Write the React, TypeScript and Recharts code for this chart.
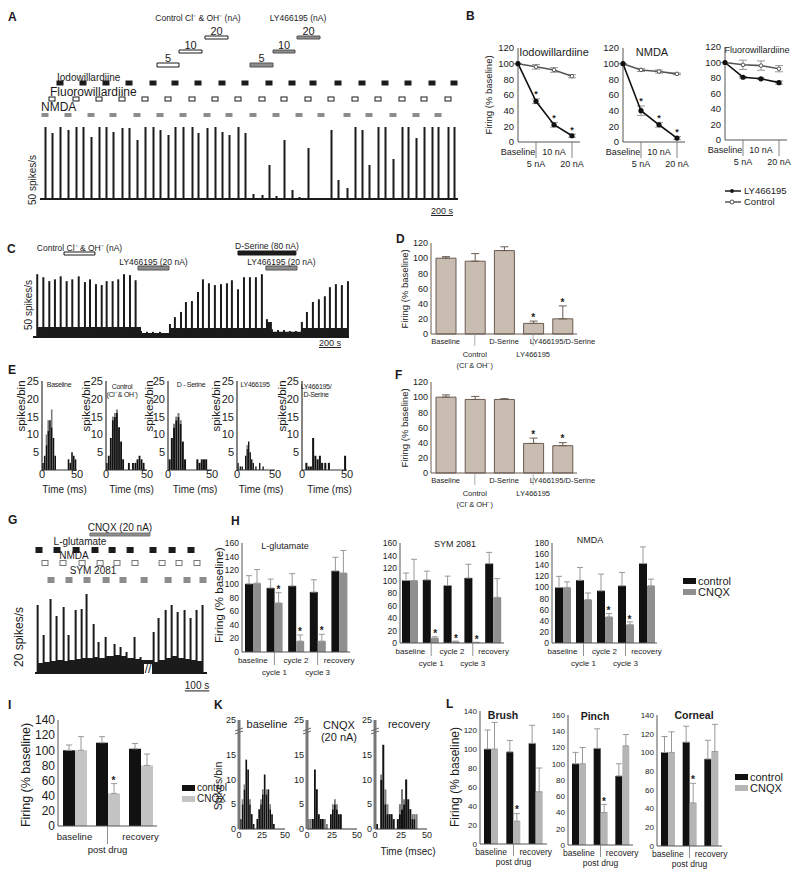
import React from 'react';
import {
  ComposedChart, Line, Bar, XAxis, YAxis, ErrorBar, Area, Scatter,
  ReferenceArea, ReferenceLine,
} from 'recharts';

const FONT = '"Liberation Sans", Arial, Helvetica, sans-serif';
const INK = '#1b1b1b';

/* ---------------- Panel A data ---------------- */
const A_X_MAX = 2926; // s
const A_Y_MAX = 216; // spikes/s
const A_NMDA_T = [35, 196, 357, 511, 679, 840, 1001, 1169, 1323, 1491, 1652, 1813, 1967, 2149, 2303, 2471, 2632, 2786];
const A_NMDA_H = [216, 207, 186, 201, 177, 207, 216, 213, 192, 15, 9, 6, 0, 33, 102, 120, 183, 216];
const A_FLUORO_T = [84, 252, 413, 574, 735, 896, 1064, 1225, 1386, 1554, 1708, 1876, 2037, 2205, 2366, 2534, 2688, 2856];
const A_FLUORO_H = [198, 216, 216, 213, 216, 192, 216, 216, 216, 12, 177, 153, 207, 216, 216, 216, 216, 216];
const A_IODO_T = [140, 301, 462, 623, 791, 945, 1106, 1274, 1435, 1603, 1764, 1911, 2086, 2254, 2415, 2576, 2744, 2898];
const A_IODO_H = [216, 216, 216, 213, 216, 216, 198, 201, 198, 102, 27, 3, 57, 207, 216, 216, 216, 216];
const A_DOSES = ['5', '10', '20'];
const A_CTRL_ON = [819, 973, 1155];
const A_CTRL_OFF = [973, 1134, 1316];
const A_LY_ON = [1470, 1631, 1799];
const A_LY_OFF = [1631, 1785, 1960];

/* ---------------- Panel B data ---------------- */
const B_DOSES = ['Baseline', '5 nA', '10 nA', '20 nA'];
const B_IODO_LY = [100, 52, 22, 8];
const B_IODO_LY_ERR = [0, 3, 3, 2];
const B_IODO_CTRL = [100, 96, 92, 84];
const B_IODO_CTRL_ERR = [0, 3, 3, 2];
const B_IODO_SIG = [false, true, true, true];
const B_NMDA_LY = [100, 40, 22, 5];
const B_NMDA_LY_ERR = [0, 6, 3, 2];
const B_NMDA_CTRL = [100, 92, 90, 87];
const B_NMDA_CTRL_ERR = [0, 2, 2, 1];
const B_NMDA_SIG = [false, true, true, true];
const B_FLUORO_LY = [100, 81, 79, 74];
const B_FLUORO_LY_ERR = [0, 1, 1, 2];
const B_FLUORO_CTRL = [100, 97, 96, 92];
const B_FLUORO_CTRL_ERR = [0, 6, 6, 4];
const B_FLUORO_SIG = [false, false, false, false];

/* ---------------- Panel C data ---------------- */
const C_X_MAX = 2750;
const C_Y_MAX = 212;
const C_T = [37, 90, 142, 191, 241, 293, 342, 398, 452, 496, 548, 598, 641, 693, 742, 792, 844, 893, 940, 992,
  1044, 1105, 1157, 1192, 1235, 1288, 1331, 1383, 1436, 1479, 1531, 1583, 1636, 1688, 1731, 1784, 1836, 1888, 1940, 1992,
  2036, 2079, 2132, 2184, 2236, 2288, 2340, 2384, 2436, 2488, 2540, 2584, 2636, 2688, 2741];
const C_H = [208, 198, 185, 191, 201, 185, 191, 201, 182, 191, 175, 172, 185, 185, 191, 208, 205, 188, 20, 17,
  17, 17, 13, 43, 66, 83, 116, 119, 149, 191, 178, 172, 175, 178, 188, 158, 198, 198, 198, 208,
  59, 26, 23, 23, 20, 20, 50, 83, 116, 125, 135, 165, 175, 172, 185];
const C_TONIC = [33, 33, 33, 33, 33, 33, 33, 33, 33, 33, 33, 33, 33, 33, 33, 33, 33, 33, 13, 13,
  13, 13, 13, 30, 30, 30, 30, 30, 30, 30, 30, 30, 30, 30, 30, 30, 30, 30, 30, 30,
  50, 17, 17, 17, 17, 17, 30, 30, 30, 30, 30, 30, 30, 30, 30];
const C_CTRL = [270, 539];
const C_LY1 = [914, 1183];
const C_DSER = [1784, 2288];
const C_LY2 = [2027, 2297];

/* ---------------- Panels D / F data ---------------- */
const DF_LABELS = ['Baseline', 'Control\n(Cl⁻& OH⁻)', 'D-Serine', 'LY466195', 'LY466195/D-Serine'];
const D_VALUES = [100, 96, 110, 14, 20];
const D_ERR = [2, 10, 5, 3, 17];
const D_SIG = [false, false, false, true, true];
const F_VALUES = [100, 97, 97, 39, 36];
const F_ERR = [3, 4, 1, 7, 4];
const F_SIG = [false, false, false, true, true];

/* ---------------- Panel E data (ms, spikes/bin) ---------------- */
const E1_T = [1.5, 4, 6.5, 9, 11.5, 14, 16.5, 19, 38, 40.5, 43, 45.5, 48];
const E1_B = [2, 4, 7, 11, 14, 12, 9, 4, 3, 2, 5, 4, 3];
const E1_G = [2, 4, 10, 14, 14, 17, 8, 4, 3, 2, 5, 4, 3];
const E2_T = [1, 3.5, 6, 8.5, 11, 13.5, 16, 18.5, 21, 28, 33, 36, 38.5, 41, 43.5, 46];
const E2_B = [2, 4, 9, 14, 15, 16, 12, 8, 3, 2, 2, 2, 3, 4, 3, 2];
const E2_G = [2, 4, 9, 15, 16, 17, 11, 8, 3, 2, 2, 2, 3, 4, 3, 2];
const E3_T = [2, 4.5, 7, 9.5, 12, 14.5, 17, 19.5, 33.5, 36, 38.5, 41, 43.5];
const E3_B = [3, 9, 12, 14, 15, 13, 8, 3, 3, 2, 3, 3, 3];
const E3_G = [3, 9, 13, 15, 16, 14, 8, 3, 3, 2, 3, 3, 3];
const E4_T = [1.5, 4.5, 7, 11.5, 13.5, 15.5, 17.5, 19.5, 21.5, 25, 30, 34.5];
const E4_B = [2, 1, 1, 4, 6, 8, 5, 3, 2, 1, 2, 1];
const E4_G = [2, 1, 1, 4, 7, 8, 5, 3, 2, 1, 2, 1];
const E5_T = [5, 7.5, 10, 12.5, 15, 17.5, 20, 22.5, 26, 30, 48];
const E5_B = [2, 1, 1, 9, 4, 3, 4, 2, 2, 2, 4];
const E5_G = [2, 1, 1, 9, 4, 3, 4, 2, 2, 2, 4];

/* ---------------- Panel G data ---------------- */
const G_X_MAX = 946;
const G_Y_MAX = 160;
const G_T = [17, 50, 88, 121, 160, 187, 226, 259, 286, 325, 352, 391, 440, 473, 506, 550, 583, 655, 682, 721, 754, 787, 825, 858, 891, 924];
const G_H = [136, 76, 148, 114, 132, 76, 126, 128, 158, 98, 62, 72, 58, 52, 42, 72, 32, 82, 110, 126, 136, 122, 126, 110, 126, 136];
const G_TONIC = [20, 22, 24, 26, 24, 26, 28, 30, 30, 32, 30, 34, 36, 34, 30, 28, 26, 22, 26, 30, 34, 30, 28, 26, 24, 22];
const G_GLU_T = [22, 121, 226, 330, 424, 523, 649, 754, 858];
const G_NMDA_T = [55, 154, 259, 358, 451, 550, 699, 792, 891];
const G_SYM_T = [88, 187, 286, 391, 484, 600, 732, 836, 924];
const G_CNQX = [302, 632];

/* ---------------- Panel H data ---------------- */
const H_GROUPS = ['baseline', 'cycle 1', 'cycle 2', 'cycle 3', 'recovery'];
const H_GLU_CTRL = [100, 94, 97, 88, 119];
const H_GLU_CTRL_ERR = [12, 13, 18, 18, 20];
const H_GLU_CNQX = [101, 72, 16, 16, 116];
const H_GLU_CNQX_ERR = [20, 15, 9, 10, 33];
const H_GLU_SIG = [false, true, true, true, false];
const H_SYM_CTRL = [100, 101, 92, 104, 127];
const H_SYM_CTRL_ERR = [12, 14, 15, 22, 18];
const H_SYM_CNQX = [100, 8, 2, 1, 73];
const H_SYM_CNQX_ERR = [34, 2, 1, 0, 30];
const H_SYM_SIG = [false, true, true, true, false];
const H_NMDA_CTRL = [100, 113, 94, 103, 143];
const H_NMDA_CTRL_ERR = [20, 23, 30, 24, 30];
const H_NMDA_CNQX = [100, 78, 47, 33, 103];
const H_NMDA_CNQX_ERR = [10, 12, 6, 5, 12];
const H_NMDA_SIG = [false, false, true, true, false];

/* ---------------- Panel I data ---------------- */
const I_GROUPS = ['baseline', 'post drug', 'recovery'];
const I_CTRL = [100, 110, 102];
const I_CTRL_ERR = [7, 8, 7];
const I_CNQX = [100, 43, 80];
const I_CNQX_ERR = [18, 13, 15];
const I_SIG = [false, true, false];

/* ---------------- Panel K data (ms, spikes/bin) ---------------- */
const K1_T = [2, 4, 6, 8, 10, 12, 14, 16, 20, 22, 24, 26, 28, 30, 32, 34, 36, 38];
const K1_B = [2, 5, 8, 14, 12, 5, 3, 1, 2, 4, 5, 7, 11, 7, 8, 4, 3, 1];
const K1_G = [2, 6, 9, 12, 10, 6, 3, 1, 2, 4, 6, 8, 9, 8, 5, 5, 3, 1];
const K2_T = [2, 4, 6, 8, 10, 12, 14, 16, 18, 20, 24, 26, 28, 30, 32, 34];
const K2_B = [0, 0, 2, 12, 8, 3, 2, 2, 0, 0, 3, 4, 5, 4, 3, 3];
const K2_G = [2, 2, 2, 11, 6, 3, 2, 2, 2, 1, 3, 5, 6, 5, 3, 2];
const K3_T = [2, 4, 6, 8, 10, 12, 14, 16, 18, 20, 22, 24, 26, 28, 30, 32, 34, 36, 38, 40];
const K3_B = [1, 0, 10, 17, 5, 3, 3, 3, 2, 0, 2, 3, 4, 5, 10, 6, 4, 2, 2, 0];
const K3_G = [1, 0, 11, 11, 8, 5, 3, 3, 2, 0, 2, 5, 8, 6, 7, 3, 3, 3, 3, 3];

/* ---------------- Panel L data ---------------- */
const L_GROUPS = ['baseline', 'post drug', 'recovery'];
const L_BRUSH_CTRL = [100, 97, 106];
const L_BRUSH_CTRL_ERR = [20, 12, 19];
const L_BRUSH_CNQX = [100, 24, 55];
const L_BRUSH_CNQX_ERR = [28, 8, 25];
const L_BRUSH_SIG = [false, true, false];
const L_PINCH_CTRL = [100, 119, 85];
const L_PINCH_CTRL_ERR = [14, 24, 15];
const L_PINCH_CNQX = [100, 40, 122];
const L_PINCH_CNQX_ERR = [20, 10, 14];
const L_PINCH_SIG = [false, true, false];
const L_CORN_CTRL = [100, 111, 93];
const L_CORN_CTRL_ERR = [17, 17, 20];
const L_CORN_CNQX = [100, 46, 101];
const L_CORN_CNQX_ERR = [22, 21, 29];
const L_CORN_SIG = [false, true, false];

/* ================= helpers ================= */
function Box({ x, y, children }: any) {
  return <div style={{ position: 'absolute', left: x, top: y }}>{children}</div>;
}

function T({ x, y, s = 10, c = INK, a = 'middle', r = 0, b = false, u = false, ls = 0, children }: any) {
  const tx = a === 'middle' ? '-50%' : a === 'end' ? '-100%' : '0%';
  return (
    <div
      style={{
        position: 'absolute', left: x, top: y,
        transform: `translate(${tx}, -50%) rotate(${r}deg)`,
        fontSize: s, fontFamily: FONT, fontWeight: b ? 700 : 400, color: c,
        whiteSpace: 'pre', lineHeight: 1.12, textAlign: 'center', letterSpacing: ls,
        textDecoration: u ? 'underline' : 'none',
      }}
    >
      {children}
    </div>
  );
}

function StaggerTick(props: any) {
  const { x, y, payload, index, fs = 9, d1 = 8, d2 = 20, lh = 11, line = 14, lineColor = '#666' } = props;
  const lines = String(payload.value).split('\n');
  const low = index % 2 === 1;
  const base = low ? d2 : d1;
  return (
    <g>
      {low && line > 0 ? <line x1={x} x2={x} y1={y} y2={y + line} stroke={lineColor} strokeWidth={0.8} /> : null}
      {lines.map((s, i) => (
        <text key={i} x={x} y={y + base + i * lh} textAnchor="middle" dominantBaseline="central"
          fontSize={fs} fontFamily={FONT} fill={INK}>{s}</text>
      ))}
    </g>
  );
}

function Star(props: any) {
  const { cx, cy, dx = 0, fs = 11 } = props;
  if (cx == null || cy == null || Number.isNaN(cx) || Number.isNaN(cy)) return <g />;
  return (
    <text x={cx + dx} y={cy + fs * 0.35} textAnchor="middle" fontSize={fs}
      fontWeight={700} fontFamily={FONT} fill={INK}>*</text>
  );
}

function Sq(props: any) {
  const { cx, cy, w = 6, h = 4, sf = INK, ss = INK } = props;
  if (cx == null || cy == null) return <g />;
  return <rect x={cx - w / 2} y={cy - h / 2} width={w} height={h} fill={sf} stroke={ss} strokeWidth={1} />;
}

function TraceChart({ x, y, w, h, xMax, yMax, data, barSize = 2, tonic = false }: any) {
  return (
    <Box x={x} y={y}>
      <ComposedChart width={w} height={h + 2} data={data} margin={{ top: 0, right: 0, bottom: 2, left: 0 }}>
        <XAxis type="number" dataKey="t" domain={[0, xMax]} hide allowDataOverflow />
        <YAxis type="number" domain={[0, yMax]} hide allowDataOverflow />
        {tonic ? (
          <Area type="stepAfter" dataKey="tonic" stroke="none" fill={INK} fillOpacity={1} isAnimationActive={false} />
        ) : null}
        <Bar dataKey="h" fill={INK} barSize={barSize} isAnimationActive={false} />
        <ReferenceLine y={0} stroke={INK} strokeWidth={2} />
      </ComposedChart>
    </Box>
  );
}

/* annotation strip (drug application bars / pulse markers) sharing the trace's time axis */
function MarkChart({ x, y, w, h, xMax, areas, rows }: any) {
  const px = 70, py = 16;
  return (
    <Box x={x - px} y={y - py}>
      <ComposedChart width={w + 2 * px} height={h + py} margin={{ top: py, right: px, bottom: 0, left: px }}>
        <XAxis type="number" dataKey="t" domain={[0, xMax]} hide allowDataOverflow />
        <YAxis type="number" dataKey="y" domain={[0, h]} reversed hide allowDataOverflow />
        {areas.map((a: any, i: number) => (
          <ReferenceArea
            key={'a' + i} x1={a.x1} x2={a.x2} y1={a.y1} y2={a.y2}
            fill={a.fill} fillOpacity={1} stroke={a.stroke} strokeWidth={1} ifOverflow="visible"
            label={a.label ? { value: a.label, position: 'top', offset: a.off ?? 1, fontSize: a.fs ?? 11, fill: INK, fontFamily: FONT } : undefined}
          />
        ))}
        {rows.map((r: any, i: number) => (
          <Scatter
            key={'r' + i}
            data={r.t.map((t: number) => ({ t, y: r.row }))}
            shape={<Sq sf={r.fill} ss={r.stroke} w={r.w ?? 6} h={r.h ?? 4} />}
            isAnimationActive={false}
          />
        ))}
      </ComposedChart>
    </Box>
  );
}

function DoseChart({ x, y, plotH, ly, lyErr, ctrl, ctrlErr, sig }: any) {
  const rows = B_DOSES.map((d, i) => ({
    dose: d,
    ly: ly[i], lyE: [lyErr[i], lyErr[i]],
    ctrl: ctrl[i], ctrlE: [ctrlErr[i], ctrlErr[i]],
    star: sig[i] ? ly[i] + lyErr[i] + 6 : null,
  }));
  const yW = 30, mt = 6, mr = 14, xH = 30, plotW = 62;
  return (
    <Box x={x - yW} y={y - mt}>
      <ComposedChart width={yW + plotW + mr} height={mt + plotH + xH} data={rows} margin={{ top: mt, right: mr, bottom: 0, left: 0 }}>
        <XAxis dataKey="dose" scale="point" padding={{ left: 0, right: 8 }} interval={0} tickSize={0} tickMargin={0}
          height={xH} axisLine={{ stroke: '#555' }} tick={<StaggerTick fs={9} d1={10} d2={22} line={16} />} />
        <YAxis type="number" domain={[0, 120]} ticks={[0, 20, 40, 60, 80, 100, 120]} interval={0} width={yW}
          tickSize={0} tickMargin={4} axisLine={{ stroke: '#555' }} tick={{ fontSize: 9.5, fill: INK, fontFamily: FONT }} />
        <Line dataKey="ctrl" stroke="#555" strokeWidth={1.6} dot={{ r: 1.8, fill: '#fff', stroke: '#555', strokeWidth: 1 }} isAnimationActive={false}>
          <ErrorBar dataKey="ctrlE" width={4} stroke="#999" strokeWidth={1} />
        </Line>
        <Line dataKey="ly" stroke="#111" strokeWidth={1.6} dot={{ r: 1.8, fill: '#111', stroke: '#111' }} isAnimationActive={false}>
          <ErrorBar dataKey="lyE" width={4} stroke="#999" strokeWidth={1} />
        </Line>
        <Scatter dataKey="star" shape={<Star fs={9} />} isAnimationActive={false} />
      </ComposedChart>
    </Box>
  );
}

function DrugBars({ x, y, plotH, vals, errs, sig }: any) {
  const rows = DF_LABELS.map((l, i) => ({ label: l, v: vals[i], e: [0, errs[i]], star: sig[i] ? vals[i] + errs[i] + 5 : null }));
  const yW = 26, mt = 6, mr = 36, xH = 42, plotW = 146;
  return (
    <Box x={x - yW} y={y - mt}>
      <ComposedChart width={yW + plotW + mr} height={mt + plotH + xH} data={rows} margin={{ top: mt, right: mr, bottom: 0, left: 0 }}>
        <XAxis dataKey="label" interval={0} tickSize={0} tickMargin={0} height={xH} axisLine={{ stroke: '#6b5b50' }}
          tick={<StaggerTick fs={7.5} d1={7} d2={20} lh={11} line={12} lineColor="#999" />} />
        <YAxis type="number" domain={[0, 120]} ticks={[0, 20, 40, 60, 80, 100, 120]} interval={0} width={yW}
          tickSize={0} tickMargin={3} axisLine={{ stroke: '#6b5b50' }} tick={{ fontSize: 9, fill: INK, fontFamily: FONT }} />
        <Bar dataKey="v" fill="#c9bcb1" stroke="#6b5b50" strokeWidth={1} barSize={20} isAnimationActive={false}>
          <ErrorBar dataKey="e" width={4} stroke="#6b5b50" strokeWidth={1} />
        </Bar>
        <Scatter dataKey="star" shape={<Star fs={10} />} isAnimationActive={false} />
      </ComposedChart>
    </Box>
  );
}

function Histo({ x, y, plotW, plotH, t, b, g, yMax, yTicks, yFmt, xTicks, yW = 20, fs = 11, barSize = 2.5, axis = '#333', axisW = 1.2, xMargin = 0 }: any) {
  const data = t.map((tt: number, i: number) => ({ t: tt, b: b[i], gx: Math.max(0, g[i] - b[i]) }));
  const mt = 6, mr = 8, xH = 16;
  return (
    <Box x={x - yW} y={y - mt}>
      <ComposedChart width={yW + plotW + mr} height={mt + plotH + xH} data={data} margin={{ top: mt, right: mr, bottom: 0, left: 0 }}>
        <XAxis type="number" dataKey="t" domain={[0, 50]} ticks={xTicks} interval={0} tickSize={0} tickMargin={xMargin}
          height={xH} axisLine={{ stroke: '#333', strokeWidth: 1 }} tick={{ fontSize: fs, fill: INK, fontFamily: FONT }} allowDataOverflow />
        <YAxis type="number" domain={[0, yMax]} ticks={yTicks} tickFormatter={yFmt} interval={0} width={yW}
          tickSize={0} tickMargin={3} axisLine={{ stroke: axis, strokeWidth: axisW }} tick={{ fontSize: fs, fill: INK, fontFamily: FONT }} allowDataOverflow />
        <Bar dataKey="b" stackId="s" fill="#111" barSize={barSize} isAnimationActive={false} />
        <Bar dataKey="gx" stackId="s" fill="#7a7a7a" barSize={barSize} isAnimationActive={false} />
      </ComposedChart>
    </Box>
  );
}

function GroupChart({ x, y, plotW, plotH, labels, c, ce, k, ke, sig, yMax, yTicks, barSize, kColor, tickFs = 9, labFs = 9, d1 = 6, d2 = 19, line = 12, yW = 24, starGap = 4, errColor = '#999' }: any) {
  const data = labels.map((l: string, i: number) => ({
    label: l, c: c[i], ce: [0, ce[i]], k: k[i], ke: [0, ke[i]],
    star: sig[i] ? k[i] + ke[i] + starGap : null,
  }));
  const mt = 6, mr = 10, xH = 34;
  return (
    <Box x={x - yW} y={y - mt}>
      <ComposedChart width={yW + plotW + mr} height={mt + plotH + xH} data={data} margin={{ top: mt, right: mr, bottom: 0, left: 0 }} barGap={0}>
        <XAxis dataKey="label" interval={0} tickSize={0} tickMargin={0} height={xH} axisLine={{ stroke: '#555' }}
          tick={<StaggerTick fs={labFs} d1={d1} d2={d2} line={line} lineColor="#777" />} />
        <YAxis type="number" domain={[0, yMax]} ticks={yTicks} interval={0} width={yW}
          tickSize={0} tickMargin={3} axisLine={{ stroke: '#555' }} tick={{ fontSize: tickFs, fill: INK, fontFamily: FONT }} allowDataOverflow />
        <Bar dataKey="c" fill="#111" barSize={barSize} isAnimationActive={false}>
          <ErrorBar dataKey="ce" width={3} stroke={errColor} strokeWidth={1} />
        </Bar>
        <Bar dataKey="k" fill={kColor} barSize={barSize} isAnimationActive={false}>
          <ErrorBar dataKey="ke" width={3} stroke={errColor} strokeWidth={1} />
        </Bar>
        <Scatter dataKey="star" shape={<Star dx={barSize / 2} fs={10} />} isAnimationActive={false} />
      </ComposedChart>
    </Box>
  );
}

function SwatchLegend({ x, y, gap, fs, gray }: any) {
  return (
    <>
      <div style={{ position: 'absolute', left: x, top: y - 3, width: 13, height: 6, background: '#111' }} />
      <T x={x + 15} y={y} a="start" s={fs}>control</T>
      <div style={{ position: 'absolute', left: x, top: y + gap - 3, width: 13, height: 6, background: gray }} />
      <T x={x + 15} y={y + gap} a="start" s={fs}>CNQX</T>
    </>
  );
}

/* ================= panels ================= */
function PanelA() {
  const spikes = [
    ...A_NMDA_T.map((t, i) => ({ t, h: A_NMDA_H[i] })),
    ...A_FLUORO_T.map((t, i) => ({ t, h: A_FLUORO_H[i] })),
    ...A_IODO_T.map((t, i) => ({ t, h: A_IODO_H[i] })),
  ].sort((p, q) => p.t - q.t);
  const boxRows = [[35, 39], [22, 25], [8, 11]];
  const areas = [
    ...A_CTRL_ON.map((on, i) => ({ x1: on, x2: A_CTRL_OFF[i], y1: boxRows[i][0], y2: boxRows[i][1], fill: '#fff', stroke: INK, label: A_DOSES[i] })),
    ...A_LY_ON.map((on, i) => ({ x1: on, x2: A_LY_OFF[i], y1: boxRows[i][0], y2: boxRows[i][1], fill: '#8c8c8c', stroke: '#555', label: A_DOSES[i] })),
  ];
  const rows = [
    { t: A_IODO_T, row: 55, fill: INK, stroke: INK },
    { t: A_FLUORO_T, row: 71, fill: '#fff', stroke: INK },
    { t: A_NMDA_T, row: 87, fill: '#8c8c8c', stroke: '#8c8c8c', h: 3 },
  ];
  return (
    <>
      <T x={8} y={18} a="start" s={12} b>A</T>
      <T x={198} y={19} s={8.5}>Control Cl⁻ & OH⁻ (nA)</T>
      <T x={298} y={19} s={8.5}>LY466195 (nA)</T>
      <T x={57} y={78} a="start" s={10}>Iodowillardiine</T>
      <T x={50} y={93} a="start" s={12}>Fluorowillardiine</T>
      <T x={41} y={108} a="start" s={12}>NMDA</T>
      <MarkChart x={40} y={28} w={418} h={92} xMax={A_X_MAX} areas={areas} rows={rows} />
      <TraceChart x={40} y={127} w={418} h={72} xMax={A_X_MAX} yMax={A_Y_MAX} data={spikes} />
      <T x={33} y={180} s={10} r={-90}>50 spikes/s</T>
      <T x={442} y={211} s={9} u>200 s</T>
    </>
  );
}

function PanelB() {
  return (
    <>
      <T x={466} y={17} a="start" s={12} b>B</T>
      <T x={489} y={95} s={9.5} r={-90}>Firing (% baseline)</T>
      <T x={554} y={52} s={11}>Iodowillardiine</T>
      <T x={652} y={52} s={11}>NMDA</T>
      <T x={757} y={50} s={9}>Fluorowillardiine</T>
      <DoseChart x={518} y={48} plotH={94} ly={B_IODO_LY} lyErr={B_IODO_LY_ERR} ctrl={B_IODO_CTRL} ctrlErr={B_IODO_CTRL_ERR} sig={B_IODO_SIG} />
      <DoseChart x={623} y={48} plotH={94} ly={B_NMDA_LY} lyErr={B_NMDA_LY_ERR} ctrl={B_NMDA_CTRL} ctrlErr={B_NMDA_CTRL_ERR} sig={B_NMDA_SIG} />
      <DoseChart x={725} y={47} plotH={93} ly={B_FLUORO_LY} lyErr={B_FLUORO_LY_ERR} ctrl={B_FLUORO_CTRL} ctrlErr={B_FLUORO_CTRL_ERR} sig={B_FLUORO_SIG} />
      <svg style={{ position: 'absolute', left: 724, top: 185 }} width={18} height={22}>
        <line x1={1} x2={17} y1={6} y2={6} stroke={INK} strokeWidth={1.5} />
        <circle cx={8} cy={6} r={2} fill={INK} />
        <line x1={1} x2={17} y1={17} y2={17} stroke="#555" strokeWidth={1.5} />
        <circle cx={8} cy={17} r={2} fill="#fff" stroke="#555" />
      </svg>
      <T x={744} y={191} a="start" s={9.5}>LY466195</T>
      <T x={744} y={202} a="start" s={9.5}>Control</T>
    </>
  );
}

function PanelC() {
  const data = C_T.map((t, i) => ({ t, h: C_H[i], tonic: C_TONIC[i] }));
  const areas = [
    { x1: C_CTRL[0], x2: C_CTRL[1], y1: 14, y2: 17, fill: '#fff', stroke: INK, label: 'Control Cl⁻ & OH⁻ (nA)', fs: 8.5 },
    { x1: C_LY1[0], x2: C_LY1[1], y1: 28, y2: 32, fill: '#8c8c8c', stroke: '#555', label: 'LY466195 (20 nA)', fs: 8.5 },
    { x1: C_DSER[0], x2: C_DSER[1], y1: 13, y2: 17, fill: INK, stroke: INK, label: 'D-Serine (80 nA)', fs: 8.5, off: 2 },
    { x1: C_LY2[0], x2: C_LY2[1], y1: 28, y2: 32, fill: '#8c8c8c', stroke: '#555', label: 'LY466195 (20 nA)', fs: 8.5 },
  ];
  return (
    <>
      <T x={7} y={250} a="start" s={12} b>C</T>
      <MarkChart x={33} y={238} w={316} h={34} xMax={C_X_MAX} areas={areas} rows={[]} />
      <TraceChart x={33} y={273} w={316} h={64} xMax={C_X_MAX} yMax={C_Y_MAX} data={data} tonic />
      <T x={29} y={305} s={10} r={-90}>50 spikes/s</T>
      <T x={330} y={343} s={9} u>200 s</T>
    </>
  );
}

function PanelDF() {
  return (
    <>
      <T x={396} y={240} a="start" s={12} b>D</T>
      <T x={405} y={289} s={9.5} r={-90}>Firing (% baseline)</T>
      <DrugBars x={431} y={243} plotH={91} vals={D_VALUES} errs={D_ERR} sig={D_SIG} />
      <T x={395} y={376} a="start" s={12} b>F</T>
      <T x={405} y={428} s={9.5} r={-90}>Firing (% baseline)</T>
      <DrugBars x={431} y={382} plotH={91} vals={F_VALUES} errs={F_ERR} sig={F_SIG} />
    </>
  );
}

function PanelE() {
  const yt = [5, 10, 15, 20, 25];
  const xt = [0, 50];
  const hs = [
    { x: 42, w: 35, t: E1_T, b: E1_B, g: E1_G, lx: 21, title: 'Baseline', tx: 59 },
    { x: 106, w: 41, t: E2_T, b: E2_B, g: E2_G, lx: 86, title: 'Control\n(Cl⁻ & OH⁻)', tx: 122 },
    { x: 168, w: 44, t: E3_T, b: E3_B, g: E3_G, lx: 149, title: 'D - Serine', tx: 191 },
    { x: 237, w: 38, t: E4_T, b: E4_B, g: E4_G, lx: 216, title: 'LY466195', tx: 255 },
    { x: 302, w: 45, t: E5_T, b: E5_B, g: E5_G, lx: 282, title: 'LY466195/\nD-Serine', tx: 316 },
  ];
  return (
    <>
      <T x={8} y={371} a="start" s={12} b>E</T>
      {hs.map((h, i) => (
        <React.Fragment key={i}>
          <Histo x={h.x} y={381} plotW={h.w} plotH={89} t={h.t} b={h.b} g={h.g} yMax={25} yTicks={yt} xTicks={xt} xMargin={0} />
          <T x={h.lx} y={406} s={11.5} r={-90}>spikes/bin</T>
          <T x={h.tx} y={h.title.includes('\n') ? 391 : 385} s={7} ls={-0.3}>{h.title}</T>
          <T x={h.x + h.w / 2 + 5} y={490} s={10}>Time (ms)</T>
        </React.Fragment>
      ))}
    </>
  );
}

function PanelG() {
  const data = G_T.map((t, i) => ({ t, h: G_H[i], tonic: G_TONIC[i] }));
  const areas = [
    { x1: G_CNQX[0], x2: G_CNQX[1], y1: 13, y2: 16, fill: '#8c8c8c', stroke: '#777', label: 'CNQX (20 nA)', fs: 10, off: 2 },
  ];
  const rows = [
    { t: G_GLU_T, row: 30, fill: INK, stroke: INK, w: 6, h: 5 },
    { t: G_NMDA_T, row: 43, fill: '#fff', stroke: '#777', w: 6, h: 5 },
    { t: G_SYM_T, row: 60, fill: '#8c8c8c', stroke: '#8c8c8c', w: 6, h: 5 },
  ];
  return (
    <>
      <T x={8} y={521} a="start" s={12} b>G</T>
      <T x={80} y={542} s={10}>L-glutamate</T>
      <T x={74} y={556} s={10}>NMDA</T>
      <T x={93} y={571} s={10}>SYM 2081</T>
      <MarkChart x={35} y={520} w={172} h={66} xMax={G_X_MAX} areas={areas} rows={rows} />
      <TraceChart x={35} y={593} w={172} h={80} xMax={G_X_MAX} yMax={G_Y_MAX} data={data} tonic />
      <div style={{ position: 'absolute', left: 144, top: 664, width: 8, height: 14, background: '#fff' }} />
      <T x={148} y={670} s={12}>//</T>
      <T x={20} y={637} s={12} r={-90}>20 spikes/s</T>
      <T x={197} y={686} s={10} u>100 s</T>
    </>
  );
}

function PanelH() {
  const t160 = [0, 20, 40, 60, 80, 100, 120, 140, 160];
  const t180 = [0, 20, 40, 60, 80, 100, 120, 140, 160, 180];
  const hc = { labels: H_GROUPS, barSize: 8, kColor: '#8f8f8f', labFs: 8, tickFs: 8.5, d1: 8, d2: 20, line: 13, starGap: 5 };
  return (
    <>
      <T x={231} y={522} a="start" s={12} b>H</T>
      <T x={219} y={595} s={11.5} r={-90}>Firing (% baseline)</T>
      <T x={285} y={546} s={9}>L-glutamate</T>
      <T x={455} y={544} s={9}>SYM 2081</T>
      <T x={590} y={540} s={9}>NMDA</T>
      <GroupChart x={242} y={543} plotW={108} plotH={109} c={H_GLU_CTRL} ce={H_GLU_CTRL_ERR} k={H_GLU_CNQX} ke={H_GLU_CNQX_ERR} sig={H_GLU_SIG} yMax={160} yTicks={t160} {...hc} />
      <GroupChart x={400} y={543} plotW={104} plotH={100} c={H_SYM_CTRL} ce={H_SYM_CTRL_ERR} k={H_SYM_CNQX} ke={H_SYM_CNQX_ERR} sig={H_SYM_SIG} yMax={160} yTicks={t160} {...hc} />
      <GroupChart x={552} y={543} plotW={105} plotH={100} c={H_NMDA_CTRL} ce={H_NMDA_CTRL_ERR} k={H_NMDA_CNQX} ke={H_NMDA_CNQX_ERR} sig={H_NMDA_SIG} yMax={180} yTicks={t180} {...hc} />
      <SwatchLegend x={683} y={581} gap={11} fs={11} gray="#8f8f8f" />
    </>
  );
}

function PanelI() {
  return (
    <>
      <T x={8} y={706} a="start" s={12} b>I</T>
      <T x={26} y={775} s={12.5} r={-90}>Firing (% baseline)</T>
      <GroupChart x={58} y={720} plotW={99} plotH={106} labels={I_GROUPS} c={I_CTRL} ce={I_CTRL_ERR} k={I_CNQX} ke={I_CNQX_ERR} sig={I_SIG}
        yMax={140} yTicks={[0, 20, 40, 60, 80, 100, 120, 140]} barSize={12} kColor="#c4c4c4" tickFs={12} labFs={9.5} d1={10} d2={23} line={18} yW={30} />
      <SwatchLegend x={182} y={788} gap={10.5} fs={10} gray="#c4c4c4" />
    </>
  );
}

function PanelK() {
  const fmt = (v: number) => (v === 22 ? '25' : String(v));
  const ks = [
    { x: 239, w: 46, t: K1_T, b: K1_B, g: K1_G },
    { x: 307, w: 50, t: K2_T, b: K2_B, g: K2_G },
    { x: 375, w: 52, t: K3_T, b: K3_B, g: K3_G },
  ];
  return (
    <>
      <T x={214} y={706} a="start" s={12} b>K</T>
      <T x={219} y={786} s={10.5} r={-90}>Spikes/bin</T>
      {ks.map((k, i) => (
        <React.Fragment key={i}>
          <Histo x={k.x} y={720} plotW={k.w} plotH={109} t={k.t} b={k.b} g={k.g} yMax={22} yTicks={[0, 5, 10, 15, 22]} yFmt={fmt}
            xTicks={[0, 25, 50]} axis="#777" axisW={3} barSize={2} fs={9} yW={14} xMargin={3} />
          <svg style={{ position: 'absolute', left: k.x - 4, top: 727 }} width={8} height={8}>
            <line x1={0} y1={4} x2={8} y2={1} stroke="#666" strokeWidth={1} />
            <line x1={0} y1={7} x2={8} y2={4} stroke="#666" strokeWidth={1} />
          </svg>
        </React.Fragment>
      ))}
      <T x={267} y={724} s={11}>baseline</T>
      <T x={339} y={731} s={11}>{'CNQX\n(20 nA)'}</T>
      <T x={409} y={724} s={11}>recovery</T>
      <T x={408} y={852} s={10}>Time (msec)</T>
    </>
  );
}

function PanelL() {
  const t140 = [0, 20, 40, 60, 80, 100, 120, 140];
  const t160 = [0, 20, 40, 60, 80, 100, 120, 140, 160];
  const common = { barSize: 7, kColor: '#b5b5b5', tickFs: 8, labFs: 8.5, d1: 8, d2: 18, line: 12, yW: 22, labels: L_GROUPS };
  return (
    <>
      <T x={446} y={705} a="start" s={12} b>L</T>
      <T x={456} y={777} s={12} r={-90}>Firing (% baseline)</T>
      <T x={503} y={716} s={10.5} b>Brush</T>
      <T x={595} y={717} s={10.5} b>Pinch</T>
      <T x={694} y={716} s={10.5} b>Corneal</T>
      <GroupChart x={480} y={711} plotW={67} plotH={133} c={L_BRUSH_CTRL} ce={L_BRUSH_CTRL_ERR} k={L_BRUSH_CNQX} ke={L_BRUSH_CNQX_ERR} sig={L_BRUSH_SIG} yMax={140} yTicks={t140} {...common} />
      <GroupChart x={568} y={715} plotW={65} plotH={130} c={L_PINCH_CTRL} ce={L_PINCH_CTRL_ERR} k={L_PINCH_CNQX} ke={L_PINCH_CNQX_ERR} sig={L_PINCH_SIG} yMax={160} yTicks={t160} {...common} />
      <GroupChart x={657} y={715} plotW={65} plotH={131} c={L_CORN_CTRL} ce={L_CORN_CTRL_ERR} k={L_CORN_CNQX} ke={L_CORN_CNQX_ERR} sig={L_CORN_SIG} yMax={140} yTicks={t140} {...common} />
      <SwatchLegend x={735} y={777} gap={11} fs={11} gray="#b5b5b5" />
    </>
  );
}

export default function App() {
  return (
    <div style={{ position: 'absolute', left: 0, top: 0, width: 800, height: 876, background: '#fff', overflow: 'hidden', fontFamily: FONT }}>
      <PanelA />
      <PanelB />
      <PanelC />
      <PanelDF />
      <PanelE />
      <PanelG />
      <PanelH />
      <PanelI />
      <PanelK />
      <PanelL />
    </div>
  );
}
